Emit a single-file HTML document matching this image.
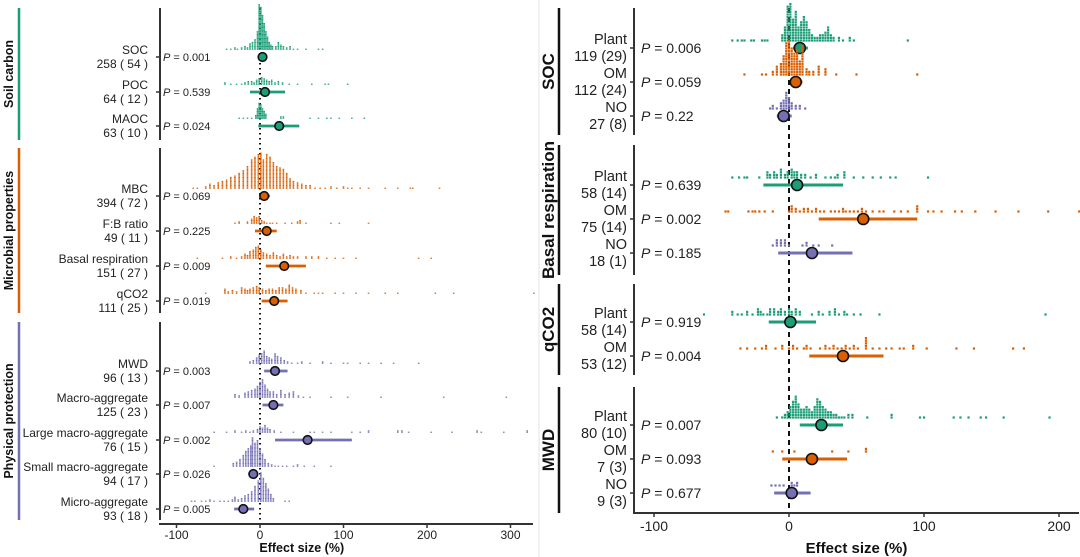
<!DOCTYPE html>
<html><head><meta charset="utf-8"><style>
html,body{margin:0;padding:0;background:#fff;}
svg{display:block;font-family:"Liberation Sans",sans-serif;}
</style></head><body>
<svg id="chart" width="1080" height="557" viewBox="0 0 1080 557"></svg>
<script>
const G='#1b9e77',O='#d95f02',P='#7570b3';
// Left panel data
const leftNames=['SOC','POC','MAOC','MBC','F:B ratio','Basal respiration','qCO2','MWD','Macro-aggregate','Large macro-aggregate','Small macro-aggregate','Micro-aggregate'];
const leftCounts=['258 ( 54 )','64 ( 12 )','63 ( 10 )','394 ( 72 )','49 ( 11 )','151 ( 27 )','111 ( 25 )','96 ( 13 )','125 ( 23 )','76 ( 15 )','94 ( 17 )','93 ( 18 )'];
const leftP=['0.001','0.539','0.024','0.069','0.225','0.009','0.019','0.003','0.007','0.002','0.026','0.005'];
const leftMean=[3,6,23,5,8,29,17,18,16,57,-8,-20];
const leftLo=[0,-12,-2,-1,-6,7,2,5,3,18,-14,-31];
const leftHi=[6,30,47,12,20,55,33,33,28,110,-2,-7];
const leftColor=[G,G,G,O,O,O,O,P,P,P,P,P];
const leftY=[57,92,126,196,231,266,301,371,405,440,474,509];
const leftHist=[
[[-40,1],[-35,1],[-30,2],[-27,1],[-22,2],[-18,3],[-15,2],[-12,5],[-9,6],[-6,8],[-3,14],[-1,34],[1,32],[3,26],[5,20],[7,14],[9,10],[11,6],[13,4],[15,3],[19,3],[22,6],[25,4],[28,3],[32,2],[36,3],[40,1],[45,1],[55,1],[70,1],[75,1]],
[[-42,2],[-35,1],[-28,1],[-22,1],[-18,2],[-14,3],[-10,3],[-7,2],[-4,4],[-1,5],[2,6],[5,5],[8,4],[11,3],[14,4],[18,2],[22,3],[27,2],[35,1],[45,1],[62,1],[78,1],[82,1],[105,1]],
[[-25,1],[-20,1],[-15,1],[-10,1],[-5,3],[-3,8],[-1,12],[1,11],[3,8],[5,6],[7,4],[25,2],[28,2],[60,1],[70,1],[80,1],[85,1],[95,1],[110,1],[125,1]],
[[-80,1],[-75,1],[-65,2],[-60,4],[-55,3],[-50,5],[-45,6],[-40,7],[-35,9],[-30,10],[-25,12],[-20,14],[-15,17],[-10,22],[-6,24],[-2,26],[1,27],[4,22],[8,26],[12,24],[16,20],[20,17],[24,16],[28,15],[32,12],[36,8],[40,6],[45,5],[50,4],[55,3],[60,3],[66,1],[72,1],[78,1],[85,2],[92,1],[100,2],[105,1],[110,1],[120,1],[130,1],[150,1],[165,1],[180,1],[183,1],[215,1]],
[[-30,1],[-25,2],[-15,2],[-10,4],[-7,6],[-4,5],[-1,6],[2,3],[5,2],[8,1],[12,1],[15,1],[20,1],[30,1],[38,1],[45,2],[48,3],[55,1],[85,1],[95,1],[130,1]],
[[-75,1],[-45,1],[-35,2],[-28,1],[-22,2],[-18,4],[-15,3],[-12,6],[-8,7],[-5,9],[-2,10],[1,7],[4,5],[8,4],[12,3],[16,5],[20,3],[24,2],[28,4],[32,2],[36,3],[40,2],[45,2],[55,2],[62,2],[70,2],[80,1],[90,1],[100,1],[115,1],[190,1],[205,1]],
[[-65,1],[-42,4],[-38,2],[-33,3],[-28,2],[-22,5],[-18,4],[-15,3],[-12,4],[-8,5],[-4,6],[-1,5],[3,4],[7,3],[11,4],[15,4],[19,3],[23,5],[27,5],[31,4],[35,7],[39,5],[43,4],[49,3],[55,1],[65,1],[70,1],[75,1],[90,1],[100,1],[115,1],[130,1],[150,1],[165,1],[210,1],[232,1],[328,1]],
[[-12,2],[-8,3],[-4,5],[-1,7],[2,8],[5,10],[8,6],[11,5],[14,4],[18,8],[21,6],[25,5],[29,3],[33,2],[38,1],[45,1],[50,2],[60,1],[75,2],[85,1],[100,1],[105,1],[120,1],[130,1],[145,1],[160,1],[190,1]],
[[-30,3],[-25,2],[-18,4],[-14,5],[-10,6],[-6,7],[-3,9],[0,12],[3,14],[6,10],[9,7],[12,5],[16,5],[20,3],[25,6],[30,3],[35,4],[40,5],[46,2],[52,1],[60,1],[85,1],[105,1],[145,1],[220,1],[295,1]],
[[-55,1],[-40,1],[-30,2],[-22,1],[-17,2],[-12,1],[-8,2],[-3,3],[0,5],[3,4],[6,6],[9,4],[12,3],[17,2],[25,1],[40,1],[60,1],[65,1],[75,1],[85,1],[110,1],[120,1],[130,2],[165,2],[170,2],[178,1],[205,1],[230,1],[260,2],[265,1],[292,1],[320,2]],
[[-55,1],[-32,3],[-28,4],[-24,6],[-20,9],[-17,12],[-14,14],[-11,16],[-9,22],[-6,18],[-3,20],[0,14],[3,10],[6,6],[10,3],[14,2],[18,1],[22,1],[27,1],[32,1],[40,1],[45,2],[53,1],[65,1],[85,1]],
[[-82,1],[-78,1],[-70,1],[-65,1],[-60,2],[-55,1],[-48,1],[-43,1],[-38,1],[-33,2],[-30,4],[-26,2],[-22,3],[-18,5],[-14,6],[-10,8],[-6,12],[-2,16],[1,22],[4,18],[7,14],[10,10],[13,6],[16,3],[30,1],[35,1]]
];
const leftTicks=[-100,0,100,200,300];
// Right panel data
const rightNames=['Plant','OM','NO','Plant','OM','NO','Plant','OM','Plant','OM','NO'];
const rightCounts=['119 (29)','112 (24)','27 (8)','58 (14)','75 (14)','18 (1)','58 (14)','53 (12)','80 (10)','7 (3)','9 (3)'];
const rightP=['0.006','0.059','0.22','0.639','0.002','0.185','0.919','0.004','0.007','0.093','0.677'];
const rightMean=[8,5,-4,6,55,17,1,40,24,17,2];
const rightLo=[3,1,-9,-19,22,-8,-15,15,8,-5,-11];
const rightHi=[14,10,2,40,95,47,20,70,40,43,16];
const rightColor=[G,O,P,G,O,P,G,O,G,O,P];
const rightY=[48,82,116,185,219,253,322,356,425,459,493];
const rightHist=[
[[-42,1],[-38,1],[-35,1],[-33,1],[-28,1],[-26,1],[-20,1],[-18,1],[-16,1],[-5,3],[-3,6],[-1,14],[1,15],[3,9],[5,12],[7,6],[9,8],[11,10],[13,8],[15,5],[17,3],[19,2],[21,2],[23,3],[25,3],[27,4],[29,6],[31,3],[33,2],[37,2],[40,1],[45,2],[48,1],[88,1]],
[[-33,1],[-20,1],[-17,1],[-12,2],[-9,4],[-6,5],[-4,8],[-2,13],[0,14],[2,11],[4,9],[6,10],[8,6],[10,12],[13,3],[15,2],[18,2],[22,4],[27,3],[35,1],[50,1],[95,1]],
[[-14,1],[-12,2],[-9,1],[-6,3],[-4,4],[-2,7],[0,5],[2,3],[5,2],[8,2],[12,1]],
[[-42,1],[-37,1],[-33,1],[-31,1],[-22,1],[-16,3],[-14,2],[-11,3],[-9,2],[-6,4],[-3,2],[-1,3],[2,4],[4,3],[6,3],[9,2],[12,2],[16,1],[20,2],[27,1],[31,1],[34,1],[36,2],[41,3],[48,1],[55,1],[62,1],[68,1],[75,1],[79,1],[103,1]],
[[-47,1],[-45,1],[-30,1],[-27,1],[-25,1],[-22,1],[-18,1],[-12,1],[0,1],[2,3],[5,2],[8,1],[11,2],[14,2],[17,1],[20,2],[23,1],[26,1],[31,1],[34,1],[37,1],[40,2],[42,1],[45,1],[48,1],[51,1],[54,2],[57,1],[62,1],[67,1],[70,1],[78,1],[83,1],[88,1],[95,3],[103,1],[107,1],[113,1],[123,1],[128,1],[138,1],[153,1],[170,1],[192,1],[215,1]],
[[-12,1],[-9,3],[-6,3],[-3,3],[0,1],[10,1],[13,2],[18,1],[22,1],[32,1]],
[[-63,1],[-42,2],[-38,1],[-35,1],[-31,2],[-27,1],[-23,3],[-21,2],[-19,1],[-16,1],[-14,3],[-11,3],[-8,2],[-6,3],[-3,2],[0,3],[2,2],[5,3],[8,2],[17,1],[22,2],[25,1],[30,2],[34,3],[37,1],[41,2],[43,1],[48,1],[53,1],[67,1],[190,1]],
[[-36,1],[-31,1],[-25,1],[-20,1],[-17,2],[-10,1],[-5,2],[0,1],[3,2],[6,1],[11,1],[13,2],[16,1],[23,1],[27,2],[30,1],[33,2],[36,1],[39,1],[42,2],[45,1],[48,2],[51,1],[57,5],[62,1],[67,1],[72,1],[76,1],[82,1],[85,1],[92,2],[102,1],[124,1],[137,1],[166,1],[174,1]],
[[-9,1],[-5,1],[-3,2],[-1,3],[1,5],[3,7],[5,9],[7,6],[9,4],[11,4],[13,5],[15,4],[17,3],[19,5],[21,8],[23,7],[25,5],[27,4],[29,3],[31,3],[33,2],[35,2],[37,1],[39,1],[41,1],[44,2],[47,2],[58,1],[76,2],[97,1],[100,1],[122,1],[127,1],[133,1],[142,1],[146,1],[159,1],[193,1]],
[[-12,1],[-5,1],[4,1],[32,1],[44,1],[57,2]],
[[-13,1],[-10,1],[-7,1],[-4,1],[2,2],[4,1],[6,2]]
];
const rightTicks=[-100,0,100,200];

const svg=document.getElementById('chart');
const NS='http://www.w3.org/2000/svg';
function mk(tag,at,parent){const e=document.createElementNS(NS,tag);for(const k in at)e.setAttribute(k,at[k]);(parent||svg).appendChild(e);return e;}
function txt(s,at,parent){const e=mk('text',at,parent);e.textContent=s;return e;}

const xL=v=>260+0.835*v;
const xR=v=>789+1.35*v;

mk('line',{x1:539,y1:0,x2:539,y2:557,stroke:'#e3e3e3','stroke-width':1});

function panel(cfg){
  const g=mk('g',{});
  
  
  cfg.groups.forEach(gr=>{
    const b=mk('line',{x1:cfg.gx,y1:gr[0],x2:cfg.gx,y2:gr[1],stroke:gr[3],'stroke-width':cfg.gw},g);
    
    
    const a=mk('line',{x1:cfg.ax,y1:gr[0],x2:cfg.ax,y2:gr[1],stroke:'#333','stroke-width':2},g);
    
    
    const cy=(gr[0]+gr[1])/2;
    const t=txt(gr[2],{x:0,y:0,transform:`translate(${cfg.glx},${cy}) rotate(-90)`,'text-anchor':'middle','font-size':cfg.gfs,'font-weight':'bold',fill:'#111'},g);
    
    
  });
  const z=mk('line',{x1:cfg.x(0),y1:cfg.zTop,x2:cfg.x(0),y2:cfg.axisY,stroke:'#111','stroke-width':cfg.zw,'stroke-dasharray':cfg.zdash},g);
  
  
  const xa=mk('line',{x1:cfg.ax-1,y1:cfg.axisY,x2:cfg.axEnd,y2:cfg.axisY,stroke:'#333','stroke-width':2},g);
  
  
  cfg.ticks.forEach(t=>{
    mk('line',{x1:cfg.x(t),y1:cfg.axisY,x2:cfg.x(t),y2:cfg.axisY+4,stroke:'#333','stroke-width':1.5},g);
    const tl=txt(String(t),{x:cfg.x(t),y:cfg.axisY+cfg.tickDy,'text-anchor':'middle','font-size':cfg.tfs,fill:'#222'},g);
    
    
  });
  const xt=txt('Effect size (%)',{x:(cfg.x(0)+cfg.x(100))/2,y:cfg.titleY,'text-anchor':'middle','font-size':cfg.titfs,'font-weight':'bold',fill:'#111'},g);
  
  
  cfg.names.forEach((nm,i)=>{
    const y=cfg.ys[i],col=cfg.colors[i];
    const rg=mk('g',{},g);
    
    
    mk('line',{x1:cfg.ax-4,y1:y,x2:cfg.ax,y2:y,stroke:'#333','stroke-width':1.5},rg);
    const l1=txt(nm,{x:cfg.lx,y:y-cfg.ld1,'text-anchor':'end','font-size':cfg.lfs,fill:'#222'},rg);
    
    
    const l2=txt(cfg.counts[i],{x:cfg.lx,y:y+cfg.ld2,'text-anchor':'end','font-size':cfg.lfs,fill:'#222'},rg);
    
    
    const pt=mk('text',{x:cfg.px,y:y+cfg.pfs*0.35,'font-size':cfg.pfs,fill:'#222'},rg);
    pt.innerHTML='<tspan font-style="italic">P</tspan> = '+cfg.ps[i];
    
    
    const base=y-cfg.base;
    cfg.hists[i].forEach(([v,c])=>{
      for(let k=0;k<c;k++){
        const d=mk('rect',{x:cfg.x(v)-cfg.dw/2,y:base-(k+1)*cfg.step,width:cfg.dw,height:cfg.step*0.85,fill:col},rg);
        
        
      }
    });
    const ci=mk('line',{x1:cfg.x(cfg.lo[i]),y1:y,x2:cfg.x(cfg.hi[i]),y2:y,stroke:col,'stroke-width':cfg.ciw},rg);
    
    
    const c=mk('circle',{cx:cfg.x(cfg.mean[i]),cy:y,r:cfg.r,fill:col,stroke:'#111','stroke-width':1.6},rg);
    
    
  });
}

panel({name:'left-panel',x:xL,ax:160,axEnd:533,axisY:524,zTop:8,zw:2,zdash:'1.5 3.5',
  gx:19,gw:2.5,glx:13,gfs:12.5,
  groups:[[8,140,'Soil carbon',G],[148,313,'Microbial properties',O],[322,520,'Physical protection',P]],
  ticks:leftTicks,tickDy:15,tfs:12,titleY:552,titfs:12.5,
  names:leftNames,counts:leftCounts,ps:leftP,mean:leftMean,lo:leftLo,hi:leftHi,colors:leftColor,ys:leftY,hists:leftHist,
  lx:148,ld1:3,ld2:11,lfs:12,px:163,pfs:11,base:7,dw:1.6,step:1.35,ciw:2.8,r:4.3});

panel({name:'right-panel',x:xR,ax:634,axEnd:1079,axisY:513,zTop:8,zw:2,zdash:'5 4',
  gx:559,gw:2.5,glx:554,gfs:17,
  groups:[[8,135,'SOC','#111'],[145,275,'Basal respiration','#111'],[284,375,'qCO2','#111'],[387,513,'MWD','#111']],
  ticks:rightTicks,tickDy:18,tfs:14,titleY:553,titfs:15,
  names:rightNames,counts:rightCounts,ps:rightP,mean:rightMean,lo:rightLo,hi:rightHi,colors:rightColor,ys:rightY,hists:rightHist,
  lx:627,ld1:4,ld2:13,lfs:14.5,px:641,pfs:14,base:6,dw:2.2,step:2.6,ciw:3,r:5.5});
</script>
</body></html>
